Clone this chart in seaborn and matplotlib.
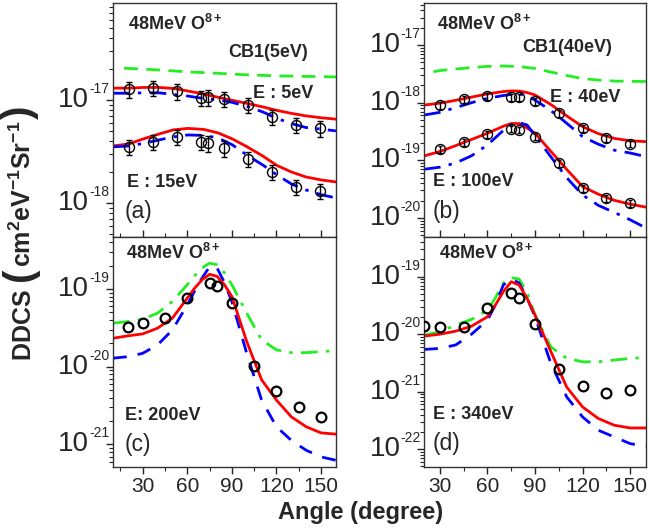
import numpy as np
import pandas as pd
import seaborn as sns
import matplotlib.pyplot as plt
import matplotlib.ticker as ticker

# ---------------- data ----------------
# (a) 5 eV and 15 eV electrons
ang_a = [30, 45, 60, 75, 80, 90, 105, 120, 135, 150]
exp_a5 = [1.27e-17, 1.30e-17, 1.21e-17, 1.05e-17, 1.06e-17, 1.02e-17, 8.9e-18, 6.8e-18, 5.7e-18, 5.3e-18]
exp_a15 = [3.52e-18, 3.94e-18, 4.41e-18, 3.94e-18, 3.80e-18, 3.40e-18, 2.67e-18, 2.01e-18, 1.44e-18, 1.32e-18]
th_a = [20, 30, 39, 49, 58, 67, 77, 86, 95, 104, 114, 123, 132, 141, 151, 160]
red_a5 = [1.30e-17, 1.30e-17, 1.32e-17, 1.32e-17, 1.29e-17, 1.22e-17, 1.14e-17, 1.06e-17,
          9.9e-18, 9.25e-18, 8.55e-18, 7.9e-18, 7.4e-18, 7.0e-18, 6.7e-18, 6.5e-18]
blue_a5 = [1.16e-17, 1.16e-17, 1.17e-17, 1.17e-17, 1.13e-17, 1.09e-17, 1.03e-17, 1.0e-17,
           9.45e-18, 8.65e-18, 7.65e-18, 6.6e-18, 5.9e-18, 5.4e-18, 5.2e-18, 5.0e-18]
red_a15 = [3.57e-18, 3.74e-18, 4.18e-18, 4.67e-18, 5.12e-18, 5.29e-18, 5.17e-18, 4.78e-18,
           4.18e-18, 3.52e-18, 2.86e-18, 2.31e-18, 2.0e-18, 1.79e-18, 1.67e-18, 1.60e-18]
blue_a15 = [3.50e-18, 3.57e-18, 3.78e-18, 4.09e-18, 4.38e-18, 4.57e-18, 4.52e-18, 4.28e-18,
            3.66e-18, 2.92e-18, 2.34e-18, 1.87e-18, 1.53e-18, 1.34e-18, 1.20e-18, 1.12e-18]
th_ga = [27, 49, 67, 86, 104, 123, 141, 160]
green_a = [2.03e-17, 1.95e-17, 1.87e-17, 1.81e-17, 1.75e-17, 1.71e-17, 1.69e-17, 1.67e-17]

# (b) 40 eV and 100 eV electrons
ang_b = [30, 45, 60, 75, 80, 90, 105, 120, 135, 150]
exp_b40 = [9.1e-19, 1.15e-18, 1.3e-18, 1.25e-18, 1.25e-18, 1.06e-18, 6.5e-19, 3.6e-19, 2.4e-19, 1.95e-19]
exp_b100 = [1.57e-19, 2.07e-19, 2.83e-19, 3.55e-19, 3.4e-19, 2.58e-19, 8.9e-20, 3.28e-20, 2.2e-20, 1.8e-20]
th_b = [20, 30, 40, 50, 60, 70, 75, 80, 85, 90, 100, 110, 120, 130, 140, 150, 160]
red_b40 = [9.1e-19, 9.8e-19, 1.1e-18, 1.25e-18, 1.42e-18, 1.56e-18, 1.6e-18, 1.59e-18, 1.5e-18,
           1.36e-18, 9.3e-19, 5.9e-19, 3.84e-19, 2.9e-19, 2.4e-19, 2.18e-19, 2.11e-19]
blue_b40 = [6.1e-19, 6.8e-19, 8.2e-19, 1.0e-18, 1.19e-18, 1.33e-18, 1.39e-18, 1.42e-18, 1.32e-18,
            1.11e-18, 7.3e-19, 4.4e-19, 2.58e-19, 1.9e-19, 1.5e-19, 1.34e-19, 1.16e-19]
red_b100 = [1.19e-19, 1.42e-19, 1.8e-19, 2.3e-19, 2.95e-19, 3.9e-19, 4.35e-19, 4.35e-19, 3.65e-19,
            2.95e-19, 1.43e-19, 6.95e-20, 3.5e-20, 2.58e-20, 2.02e-20, 1.74e-20, 1.54e-20]
blue_b100 = [7.0e-20, 7.6e-20, 9.0e-20, 1.2e-19, 1.85e-19, 3.3e-19, 4.1e-19, 4.5e-19, 4.1e-19,
             2.7e-19, 1.15e-19, 5.0e-20, 2.5e-20, 1.65e-20, 1.25e-20, 9.3e-21, 6.7e-21]
th_gb = [26, 30, 40, 50, 60, 70, 80, 90, 100, 110, 120, 130, 140, 150, 160]
green_b = [3.45e-18, 3.61e-18, 3.84e-18, 4.07e-18, 4.27e-18, 4.33e-18, 4.24e-18, 3.92e-18,
           3.40e-18, 2.96e-18, 2.62e-18, 2.47e-18, 2.37e-18, 2.35e-18, 2.33e-18]

# (c) 200 eV electrons
ang_c = [20, 30, 45, 60, 75, 80, 90, 105, 120, 135, 150]
exp_c = [3.23e-20, 3.71e-20, 4.23e-20, 7.79e-20, 1.19e-19, 1.08e-19, 6.71e-20, 1.03e-20, 4.92e-21, 3.00e-21, 2.27e-21]
th_c = [10, 20, 30, 40, 50, 60, 65, 70, 75, 80, 85, 90, 100, 110, 120, 130, 140, 150, 160]
red_c = [2.33e-20, 2.50e-20, 2.65e-20, 3.14e-20, 4.23e-20, 7.65e-20, 1.03e-19, 1.32e-19, 1.55e-19, 1.46e-19,
         1.14e-19, 8.03e-20, 2.11e-20, 6.8e-21, 3.73e-21, 2.27e-21, 1.69e-21, 1.41e-21, 1.36e-21]
blue_c = [1.29e-20, 1.35e-20, 1.49e-20, 1.91e-20, 2.98e-20, 6.26e-20, 9.5e-20, 1.39e-19, 1.94e-19, 1.88e-19,
          1.21e-19, 6.92e-20, 1.49e-20, 3.73e-21, 1.69e-21, 1.13e-21, 8.43e-22, 6.92e-22, 6.26e-22]
green_c = [3.64e-20, 3.82e-20, 4.10e-20, 4.90e-20, 6.92e-20, 1.14e-19, 1.49e-19, 1.87e-19, 2.16e-19, 2.06e-19,
           1.62e-19, 1.14e-19, 4.90e-20, 2.22e-20, 1.65e-20, 1.52e-20, 1.52e-20, 1.57e-20, 1.61e-20]

# (d) 340 eV electrons
ang_d = [20, 30, 45, 60, 75, 80, 90, 105, 120, 135, 150]
exp_d = [1.38e-20, 1.35e-20, 1.35e-20, 2.81e-20, 5.14e-20, 4.31e-20, 1.48e-20, 2.47e-21, 1.26e-21, 9.31e-22, 1.06e-21]
th_d = [20, 30, 40, 50, 60, 65, 70, 75, 80, 85, 90, 100, 110, 120, 130, 140, 150, 160]
red_d = [9.27e-21, 1.00e-20, 1.13e-20, 1.38e-20, 2.01e-20, 3.21e-20, 5.48e-20, 8.18e-20, 7.16e-20,
         4.21e-20, 2.15e-20, 5.0e-21, 1.2e-21, 5.43e-22, 3.41e-22, 2.61e-22, 2.34e-22, 2.34e-22]
blue_d = [5.43e-21, 5.66e-21, 6.5e-21, 1.0e-20, 1.76e-20, 3.21e-20, 7.16e-20, 9.1e-20, 7.77e-20,
          4.25e-20, 2.01e-20, 3.10e-21, 8.11e-22, 3.64e-22, 2.13e-22, 1.63e-22, 1.25e-22, 1.12e-22]
green_d = [9.64e-21, 1.10e-20, 1.44e-20, 1.81e-20, 2.63e-20, 4.26e-20, 7.76e-20, 9.6e-20, 9.1e-20,
           5.41e-20, 2.15e-20, 6.0e-21, 3.79e-21, 3.31e-21, 3.31e-21, 3.55e-21, 3.79e-21, 3.94e-21]

# ---------------- style ----------------
sns.set_theme(style="ticks")
plt.rcParams['font.family'] = ['Liberation Sans', 'DejaVu Sans']
plt.rcParams['mathtext.fontset'] = 'custom'
plt.rcParams['mathtext.rm'] = 'Liberation Sans'
plt.rcParams['mathtext.it'] = 'Liberation Sans:italic'
plt.rcParams['mathtext.bf'] = 'Liberation Sans:bold'
plt.rcParams['mathtext.default'] = 'regular'

RED = '#ff0000'
BLUE = '#0000ff'
GREEN = '#22ee22'
DASH = (0, (5, 3))
DASHDOT = (0, (6, 3, 1.2, 3))

fig = plt.figure(figsize=(6.49, 5.31), dpi=100)
ax_a = fig.add_axes([0.174, 0.5537, 0.3436, 0.4407])
ax_b = fig.add_axes([0.6533, 0.5537, 0.3421, 0.4407])
ax_c = fig.add_axes([0.174, 0.1205, 0.3436, 0.4331])
ax_d = fig.add_axes([0.6533, 0.1205, 0.3421, 0.4331])


def curve(ax, th, vals, color, ls):
    sns.lineplot(x=th, y=vals, ax=ax, color=color, linestyle=ls, linewidth=2.0)


def points(ax, ang, vals, err=None, ms=7.2, mew=1.0, cap=0):
    yerr = None if err is None else np.array(vals) * err
    ax.errorbar(ang, vals, yerr=yerr, fmt='o', mfc='none', mec='black', ms=ms, mew=mew,
                ecolor='black', elinewidth=1.0, capsize=cap, capthick=1.0, zorder=5)


def style(ax, xlim, ylim, bottom_labels):
    ax.set_yscale('log')
    ax.set_xlim(*xlim)
    ax.set_ylim(*ylim)
    ax.xaxis.set_major_locator(ticker.MultipleLocator(30))
    ax.xaxis.set_minor_locator(ticker.MultipleLocator(15))
    ax.yaxis.set_major_locator(ticker.LogLocator(base=10, numticks=20))
    ax.yaxis.set_minor_locator(ticker.LogLocator(base=10, subs=np.arange(2, 10), numticks=20))
    ax.yaxis.set_minor_formatter(ticker.NullFormatter())
    ax.tick_params(axis='both', which='major', labelsize=15, length=5, width=1, direction='out', pad=2)
    ax.tick_params(axis='both', which='minor', length=3, width=0.8, direction='out')
    ax.tick_params(axis='y', which='both', labelleft=False)
    if bottom_labels:
        ax.tick_params(axis='x', which='both', top=True, bottom=True)
    else:
        ax.tick_params(axis='x', which='both', bottom=False, labelbottom=False)
    for s in ax.spines.values():
        s.set_visible(True)
        s.set_linewidth(1.0)
        s.set_color('#333333')
    ax.set_xlabel('')
    ax.set_ylabel('')
    # decade labels "10" with a small raised exponent
    lo, hi = int(np.ceil(np.log10(ylim[0]))), int(np.floor(np.log10(ylim[1])))
    for e in range(lo, hi + 1):
        ax.annotate("10", xy=(0, 10.0 ** e), xycoords=('axes fraction', 'data'), xytext=(-17, 0),
                    textcoords='offset points', ha='right', va='center', fontsize=20)
        ax.annotate("-%d" % (-e), xy=(0, 10.0 ** e), xycoords=('axes fraction', 'data'), xytext=(-17, 8),
                    textcoords='offset points', ha='left', va='center', fontsize=10)


def label(ax, x, y, txt, size=13, weight='bold'):
    ax.text(x, y, txt, transform=ax.transAxes, fontsize=size, fontweight=weight, va='center', ha='left')


ion = r"48MeV O$^{\mathbf{8+}}$"

# (a)
curve(ax_a, th_ga, green_a, GREEN, DASH)
curve(ax_a, th_a, red_a5, RED, '-')
curve(ax_a, th_a, blue_a5, BLUE, DASHDOT)
curve(ax_a, th_a, red_a15, RED, '-')
curve(ax_a, th_a, blue_a15, BLUE, DASHDOT)
points(ax_a, ang_a, exp_a5, err=0.17, cap=2.5)
points(ax_a, ang_a, exp_a15, err=0.17, cap=2.5)
style(ax_a, (20, 160), (10 ** -18.33, 10 ** -16.06), False)
label(ax_a, 0.067, 0.91, ion)
label(ax_a, 0.516, 0.79, "CB1(5eV)")
label(ax_a, 0.628, 0.615, "E : 5eV")
label(ax_a, 0.063, 0.231, "E : 15eV")
label(ax_a, 0.054, 0.107, "(a)", size=16.5, weight='normal')

# (b)
curve(ax_b, th_gb, green_b, GREEN, DASH)
curve(ax_b, th_b, red_b40, RED, '-')
curve(ax_b, th_b, blue_b40, BLUE, DASHDOT)
curve(ax_b, th_b, red_b100, RED, '-')
curve(ax_b, th_b, blue_b100, BLUE, DASHDOT)
points(ax_b, ang_b, exp_b40, err=0.13, cap=1.5)
points(ax_b, ang_b, exp_b100, err=0.13, cap=1.5)
style(ax_b, (20, 160), (10 ** -20.33, 10 ** -16.27), False)
label(ax_b, 0.059, 0.91, ion)
label(ax_b, 0.441, 0.808, "CB1(40eV)")
label(ax_b, 0.568, 0.598, "E : 40eV")
label(ax_b, 0.041, 0.235, "E : 100eV")
label(ax_b, 0.041, 0.107, "(b)", size=16.5, weight='normal')

# (c)
curve(ax_c, th_c, green_c, GREEN, DASHDOT)
curve(ax_c, th_c, blue_c, BLUE, (0, (5, 4)))
curve(ax_c, th_c, red_c, RED, '-')
points(ax_c, ang_c, exp_c, ms=7, mew=1.6)
style(ax_c, (10, 160), (10 ** -21.29, 10 ** -18.33), True)
label(ax_c, 0.058, 0.93, ion)
label(ax_c, 0.054, 0.226, "E: 200eV")
label(ax_c, 0.054, 0.096, "(c)", size=16.5, weight='normal')

# (d)
curve(ax_d, th_d, green_d, GREEN, DASHDOT)
curve(ax_d, th_d, blue_d, BLUE, (0, (5, 4)))
curve(ax_d, th_d, red_d, RED, '-')
points(ax_d, ang_d, exp_d, ms=7, mew=1.6)
style(ax_d, (20, 160), (10 ** -22.31, 10 ** -18.31), True)
label(ax_d, 0.068, 0.93, ion)
label(ax_d, 0.041, 0.23, "E : 340eV")
label(ax_d, 0.041, 0.104, "(d)", size=16.5, weight='normal')

fig.text(0.555, 0.034, "Angle (degree)", fontsize=17, fontweight='bold', ha='center', va='center')

# y label built from pieces so the brackets can be larger than the letters
renderer = fig.canvas.get_renderer()
H = fig.bbox.height
y_px = H - 360
parts = [("DDCS ", 18), ("(", 29), (r"cm$^{\mathbf{2}}$eV$^{\mathbf{-1}}$Sr$^{\mathbf{-1}}$", 18), (")", 29)]
for txt, size in parts:
    t = fig.text(0.048, y_px / H, txt, rotation=90, rotation_mode='anchor', ha='left', va='baseline',
                 fontsize=size, fontweight='bold')
    bb = t.get_window_extent(renderer)
    y_px = bb.y1 + 1

fig.savefig('out.png', dpi=100)
